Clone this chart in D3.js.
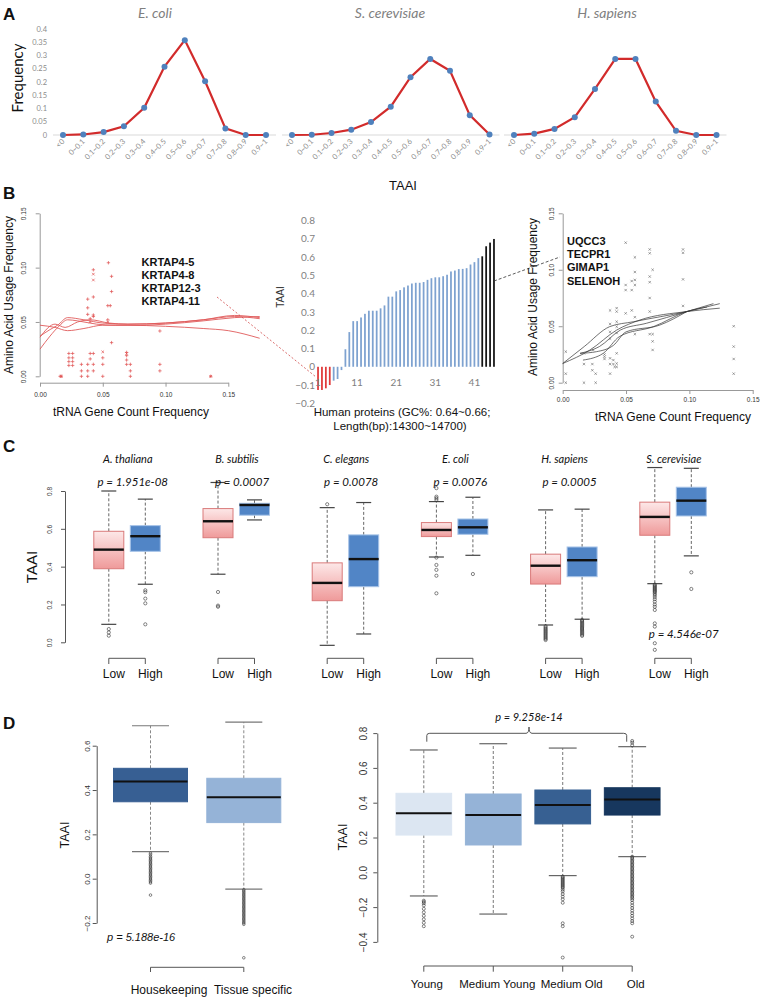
<!DOCTYPE html>
<html>
<head>
<meta charset="utf-8">
<script src="https://cdn.jsdelivr.net/npm/d3@7"></script>
<style>body{margin:0;background:#fff}</style>
</head>
<body>
<div id="chart"></div>
<script>
// ---------- data ----------
var bins = ["<0", "0~0.1", "0.1~0.2", "0.2~0.3", "0.3~0.4", "0.4~0.5", "0.5~0.6", "0.6~0.7", "0.7~0.8", "0.8~0.9", "0.9~1"];
var freqEcoli = [0, 0.002, 0.011, 0.033, 0.103, 0.258, 0.358, 0.203, 0.025, 0, 0];
var freqYeast = [0, 0.001, 0.0075, 0.020, 0.049, 0.107, 0.218, 0.287, 0.242, 0.075, 0.002];
var freqHuman = [0, 0.005, 0.023, 0.067, 0.174, 0.287, 0.287, 0.126, 0.016, 0, 0];
var freqTicks = [0, 0.05, 0.1, 0.15, 0.2, 0.25, 0.3, 0.35, 0.4];

// B left: KRTAP genes
var krtapPlus = [[0.016, 0], [0.017, 0], [0.023, 0.021], [0.023, 0.017], [0.023, 0.0135], [0.023, 0.010],
  [0.026, 0.021], [0.026, 0.017], [0.026, 0.0135], [0.026, 0.010], [0.033, 0.011], [0.033, 0.005], [0.033, 0],
  [0.038, 0.071], [0.038, 0.063], [0.038, 0.057], [0.038, 0.011], [0.038, 0.005], [0.038, 0],
  [0.040, 0.053], [0.040, 0.021], [0.040, 0.016], [0.0425, 0.098], [0.0425, 0.073], [0.0425, 0.0564],
  [0.0425, 0.055], [0.0425, 0.021], [0.0425, 0.011], [0.0425, 0.005], [0.050, 0.017], [0.050, 0.011], [0.050, 0],
  [0.0545, 0.1045], [0.054, 0.065], [0.056, 0.065], [0.054, 0.052], [0.057, 0.092], [0.057, 0.078], [0.057, 0.031],
  [0.069, 0.022], [0.069, 0.019], [0.069, 0.015], [0.069, 0.011], [0.072, 0.011], [0.072, 0.005], [0.072, 0],
  [0.0955, 0.0417], [0.0955, 0.011], [0.0955, 0.005], [0.136, 0]];
var krtapCross = [[0.0425, 0.094], [0.0425, 0.0886], [0.050, 0.0225], [0.054, 0.050], [0.069, 0.021], [0.040, 0.050], [0.136, 0], [0.017, 0]];
var krtapFits = [
  [[0, 0.025], [0.008, 0.037], [0.015, 0.046], [0.022, 0.052], [0.03, 0.051], [0.045, 0.048], [0.06, 0.047], [0.08, 0.047], [0.10, 0.048], [0.13, 0.051], [0.155, 0.054], [0.175, 0.055]],
  [[0, 0.037], [0.008, 0.043], [0.014, 0.047], [0.022, 0.054], [0.035, 0.052], [0.05, 0.049], [0.07, 0.048], [0.10, 0.049], [0.13, 0.052], [0.155, 0.055], [0.175, 0.053]],
  [[0, 0.047], [0.012, 0.045], [0.022, 0.042], [0.035, 0.044], [0.05, 0.047], [0.07, 0.047], [0.10, 0.046], [0.13, 0.044], [0.15, 0.042], [0.175, 0.035]],
  [[0, 0.036], [0.012, 0.048], [0.02, 0.045], [0.03, 0.05], [0.04, 0.052], [0.055, 0.049], [0.07, 0.048], [0.10, 0.049], [0.13, 0.052], [0.155, 0.056], [0.175, 0.054]]
];
var krtapGenes = ["KRTAP4-5", "KRTAP4-8", "KRTAP12-3", "KRTAP4-11"];

// B middle: TAAI of 46 human proteins
var taaiBars = [-0.127, -0.127, -0.118, -0.10, -0.076, -0.067, -0.018, 0.096, 0.19, 0.25, 0.25, 0.27, 0.29, 0.307, 0.307,
  0.307, 0.32, 0.336, 0.384, 0.384, 0.413, 0.42, 0.435, 0.445, 0.456, 0.46, 0.46, 0.464, 0.476, 0.485, 0.49, 0.49,
  0.496, 0.504, 0.522, 0.527, 0.535, 0.536, 0.54, 0.56, 0.573, 0.595, 0.605, 0.66, 0.68, 0.70];
var barTicks = [1, 11, 21, 31, 41];
var barYTicks = [-0.2, -0.1, 0, 0.1, 0.2, 0.3, 0.4, 0.5, 0.6, 0.7, 0.8];

// B right: high-TAAI genes
var highGenes = ["UQCC3", "TECPR1", "GIMAP1", "SELENOH"];
var highPts = [[0.0024, 0.0275], [0.0024, 0.008], [0.0024, 0], [0.0168, 0.026], [0.0168, 0.0165], [0.0168, 0],
  [0.0234, 0.0165], [0.0234, 0.011], [0.024, 0.029], [0.026, 0.008], [0.026, 0], [0.033, 0.025], [0.033, 0.023], [0.033, 0.021],
  [0.0374, 0.064], [0.0374, 0.052], [0.0374, 0.045], [0.0374, 0.039], [0.0374, 0.0216], [0.0374, 0.0165], [0.0374, 0.008],
  [0.040, 0.020], [0.040, 0.0165], [0.041, 0.014], [0.0426, 0.066], [0.0426, 0.063], [0.0426, 0.054], [0.0426, 0.0496],
  [0.0426, 0.044], [0.0426, 0.026], [0.0426, 0.017], [0.0426, 0.014], [0.0497, 0.124], [0.0497, 0.0865], [0.0497, 0.082],
  [0.0497, 0.0614], [0.0545, 0.090], [0.0545, 0.082], [0.0545, 0.064], [0.057, 0.111], [0.057, 0.098], [0.057, 0.091],
  [0.057, 0.0865], [0.057, 0.058], [0.057, 0.043], [0.0687, 0.118], [0.0687, 0.1146], [0.0687, 0.094], [0.0687, 0.089],
  [0.0687, 0.075], [0.0687, 0.063], [0.0687, 0.043], [0.071, 0.10], [0.071, 0.043], [0.071, 0.0366], [0.071, 0.029],
  [0.095, 0.118], [0.095, 0.115], [0.095, 0.0915], [0.095, 0.068], [0.135, 0.050], [0.135, 0.032], [0.135, 0.021], [0.135, 0.008]];
var highFits = [
  [[0, 0.017], [0.017, 0.032], [0.037, 0.0496], [0.056, 0.054], [0.098, 0.063], [0.124, 0.070]],
  [[0, 0.017], [0.0216, 0.029], [0.0426, 0.0466], [0.061, 0.0555], [0.098, 0.063], [0.124, 0.066]],
  [[0.0137, 0.026], [0.029, 0.032], [0.0455, 0.0466], [0.066, 0.0526], [0.098, 0.063], [0.119, 0.070]],
  [[0.016, 0.020], [0.032, 0.026], [0.045, 0.041], [0.0716, 0.0496], [0.098, 0.063], [0.114, 0.067]],
  [[0.0137, 0.026], [0.0268, 0.0275], [0.040, 0.033], [0.050, 0.045], [0.0766, 0.051], [0.098, 0.063]]
];
var freqAxisTicks = [0, 0.05, 0.10, 0.15];

// C: [lower whisker, Q1, median, Q3, upper whisker]
var cSpecies = ["A. thaliana", "B. subtilis", "C. elegans", "E. coli", "H. sapiens", "S. cerevisiae"];
var cPvals = ["p = 1.951e-08", "p = 0.0007", "p = 0.0078", "p = 0.0076", "p = 0.0005", "p = 4.546e-07"];
var cLowStats = [[0.095, 0.389, 0.49, 0.587, 0.80], [0.36, 0.553, 0.64, 0.707, 0.845], [-0.016, 0.22, 0.314, 0.42, 0.712],
  [0.451, 0.559, 0.594, 0.633, 0.744], [0.0915, 0.308, 0.405, 0.466, 0.70], [0.31, 0.566, 0.663, 0.741, 0.924]];
var cHighStats = [[0.307, 0.481, 0.561, 0.617, 0.757], [0.647, 0.672, 0.726, 0.735, 0.753], [0.044, 0.294, 0.44, 0.568, 0.739],
  [0.46, 0.571, 0.608, 0.652, 0.767], [0.122, 0.347, 0.434, 0.504, 0.704], [0.457, 0.668, 0.749, 0.82, 0.92]];
var cLowOut = [[0.07, 0.052, 0.035], [0.266, 0.194, 0.188], [0.73],
  [0.815, 0.770, 0.762, 0.753, 0.448, 0.409, 0.383, 0.352, 0.259],
  [0.085, 0.078, 0.072, 0.066, 0.06, 0.054, 0.048, 0.042, 0.036, 0.03, 0.024, 0.018, 0.012],
  [0.305, 0.3, 0.295, 0.29, 0.285, 0.28, 0.275, 0.27, 0.265, 0.258, 0.25, 0.24, 0.228, 0.215, 0.2, 0.188, 0.171, 0.1, 0.083, -0.005, -0.04]];
var cHighOut = [[0.275, 0.265, 0.231, 0.206, 0.095], [], [], [0.361],
  [0.118, 0.112, 0.106, 0.1, 0.094, 0.088, 0.082, 0.076, 0.07, 0.064, 0.058, 0.052, 0.046, 0.04, 0.034],
  [0.37, 0.282]];
var cTicks = [0, 0.2, 0.4, 0.6, 0.8];

// D left
var dLeftCats = ["Housekeeping", "Tissue specific"];
var dLeftStats = [[0.122, 0.347, 0.438, 0.498, 0.69], [-0.047, 0.253, 0.367, 0.453, 0.706]];
var dLeftOut = [[0.115, 0.108, 0.1, 0.094, 0.088, 0.082, 0.076, 0.07, 0.064, 0.058, 0.052, 0.046, 0.04, 0.034, 0.028, 0.022, 0.016, 0.01, 0.004, -0.002, -0.008, -0.014, -0.02, -0.074],
  [-0.05, -0.056, -0.062, -0.068, -0.074, -0.08, -0.086, -0.092, -0.098, -0.104, -0.11, -0.116, -0.122, -0.128, -0.134, -0.14, -0.146, -0.152, -0.158, -0.164, -0.17, -0.176, -0.182, -0.188, -0.194, -0.2, -0.206, -0.357]];
var dLeftTicks = [-0.2, 0, 0.2, 0.4, 0.6];

// D right
var dRightCats = ["Young", "Medium Young", "Medium Old", "Old"];
var dRightStats = [[-0.136, 0.214, 0.339, 0.454, 0.703], [-0.24, 0.157, 0.329, 0.45, 0.739],
  [-0.019, 0.278, 0.387, 0.473, 0.714], [0.09, 0.329, 0.419, 0.486, 0.722]];
var dRightOut = [[-0.163, -0.17, -0.178, -0.19, -0.21, -0.23, -0.25, -0.27, -0.29, -0.31], [],
  [-0.025, -0.03, -0.036, -0.042, -0.048, -0.054, -0.06, -0.066, -0.072, -0.078, -0.084, -0.09, -0.1, -0.11, -0.125, -0.14, -0.155, -0.175, -0.293, -0.31, -0.49],
  [0.755, 0.745, 0.73, 0.09, 0.082, 0.074, 0.066, 0.058, 0.05, 0.042, 0.034, 0.026, 0.018, 0.01, 0.002, -0.006, -0.014, -0.022, -0.03, -0.038, -0.046, -0.054, -0.062, -0.07, -0.078, -0.086, -0.094, -0.102, -0.11, -0.118, -0.126, -0.134, -0.142, -0.15, -0.16, -0.175, -0.19, -0.205, -0.22, -0.235, -0.25, -0.265, -0.28, -0.293, -0.37]];
var dRightTicks = [-0.4, -0.2, 0, 0.2, 0.4, 0.6, 0.8];

// ---------- drawing ----------
var ARIAL = "'Liberation Sans', Arial, sans-serif";
var CALIBRI = "Lato, 'Open Sans', sans-serif";

var svg = d3.select("#chart").append("svg")
  .attr("width", 760).attr("height", 998)
  .style("font-family", ARIAL);

var defs = svg.append("defs");
var grad = defs.append("linearGradient").attr("id", "lowGrad")
  .attr("x1", 0).attr("y1", 0).attr("x2", 0).attr("y2", 1);
grad.append("stop").attr("offset", "0%").attr("stop-color", "#fde8e8");
grad.append("stop").attr("offset", "100%").attr("stop-color", "#ef9a9a");

function txt(g, x, y, s, o) {
  o = o || {};
  var t = g.append("text").attr("x", x).attr("y", y).text(s)
    .attr("font-size", o.size || 12)
    .attr("fill", o.fill || "#111")
    .attr("text-anchor", o.anchor || "start");
  if (o.family) t.attr("font-family", o.family);
  if (o.weight) t.attr("font-weight", o.weight);
  if (o.italic) t.attr("font-style", "italic");
  if (o.rotate) t.attr("transform", "rotate(" + o.rotate + "," + x + "," + y + ")");
  return t;
}

// R style axes
function rAxisY(g, scale, ticks, fmt, x, off, fs, col) {
  var ax = g.append("g").attr("transform", "translate(" + x + ",0)")
    .call(d3.axisLeft(scale).tickValues(ticks).tickFormat(fmt).tickSize(4).tickSizeOuter(0));
  ax.attr("font-family", ARIAL).attr("font-size", fs);
  ax.select(".domain").attr("stroke", col);
  ax.selectAll(".tick line").attr("stroke", col);
  ax.selectAll(".tick text").attr("x", 0).attr("dy", "0.35em").attr("text-anchor", "middle")
    .attr("fill", "#333")
    .attr("transform", "translate(" + (-off) + ",0) rotate(-90)");
}
function rAxisX(g, scale, ticks, fmt, y, off, fs, col) {
  var ax = g.append("g").attr("transform", "translate(0," + y + ")")
    .call(d3.axisBottom(scale).tickValues(ticks).tickFormat(fmt).tickSize(4).tickSizeOuter(0));
  ax.attr("font-family", ARIAL).attr("font-size", fs);
  ax.select(".domain").attr("stroke", col);
  ax.selectAll(".tick line").attr("stroke", col);
  ax.selectAll(".tick text").attr("y", off).attr("dy", "0.35em").attr("fill", "#333");
}

function drawBox(g, y, cx, w, st, out, o) {
  var cap = w / 2;
  g.append("line").attr("x1", cx).attr("x2", cx).attr("y1", y(st[3])).attr("y2", y(st[4]))
    .attr("stroke", o.wcol).attr("stroke-dasharray", "3,2");
  g.append("line").attr("x1", cx).attr("x2", cx).attr("y1", y(st[1])).attr("y2", y(st[0]))
    .attr("stroke", o.wcol).attr("stroke-dasharray", "3,2");
  [st[0], st[4]].forEach(function (v) {
    g.append("line").attr("x1", cx - cap / 2).attr("x2", cx + cap / 2).attr("y1", y(v)).attr("y2", y(v))
      .attr("stroke", o.ccol).attr("stroke-width", 1.2);
  });
  g.append("rect").attr("x", cx - w / 2).attr("width", w)
    .attr("y", y(st[3])).attr("height", y(st[1]) - y(st[3]))
    .attr("fill", o.fill).attr("stroke", o.stroke).attr("stroke-width", 1);
  g.append("line").attr("x1", cx - w / 2).attr("x2", cx + w / 2).attr("y1", y(st[2])).attr("y2", y(st[2]))
    .attr("stroke", o.med).attr("stroke-width", o.mw);
  g.selectAll(null).data(out).enter().append("circle")
    .attr("cx", cx).attr("cy", function (d) { return y(d); }).attr("r", o.r)
    .attr("fill", "none").attr("stroke", "#333").attr("stroke-width", 0.6);
}

// panel letters
[["A", 20], ["B", 199], ["C", 452], ["D", 729]].forEach(function (p) {
  txt(svg, 3, p[1], p[0], { size: 17, weight: "bold" });
});

// ---------- Panel A ----------
var freqY = d3.scaleLinear().domain([0, 0.4]).range([135, 29]);
var panelA = [
  { name: "E. coli", values: freqEcoli, range: [63, 266], title: 155 },
  { name: "S. cerevisiae", values: freqYeast, range: [292, 489.5], title: 390 },
  { name: "H. sapiens", values: freqHuman, range: [514, 716.5], title: 607 }
];
panelA.forEach(function (p, k) {
  var g = svg.append("g");
  var x = d3.scalePoint().domain(bins).range(p.range);
  g.append("line").attr("x1", p.range[0] - 10).attr("x2", p.range[1] + 10)
    .attr("y1", freqY(0)).attr("y2", freqY(0)).attr("stroke", "#d9d9d9");
  g.append("path").datum(p.values)
    .attr("d", d3.line().x(function (d, i) { return x(bins[i]); }).y(function (d) { return freqY(d); }))
    .attr("fill", "none").attr("stroke", "#d22b2b").attr("stroke-width", 2.2);
  g.selectAll("circle").data(p.values).enter().append("circle")
    .attr("cx", function (d, i) { return x(bins[i]); })
    .attr("cy", function (d) { return freqY(d); })
    .attr("r", 3).attr("fill", "#4f81bd");
  bins.forEach(function (b) {
    txt(g, x(b) + 2, 142, b, { size: 7.5, fill: "#8c8c8c", anchor: "end", rotate: -45, family: CALIBRI });
  });
  txt(g, p.title, 18, p.name, { size: 14, fill: "#808080", anchor: "middle", italic: true, family: CALIBRI });
  if (k === 0) {
    freqTicks.forEach(function (t) {
      txt(g, 47, freqY(t) + 2.5, String(t), { size: 7.5, fill: "#8c8c8c", anchor: "end", family: CALIBRI });
    });
    txt(g, 23, 78, "Frequency", { size: 15, anchor: "middle", rotate: -90, family: CALIBRI });
  }
});
txt(svg, 403, 190, "TAAI", { size: 13, anchor: "middle" });

// ---------- Panel B left ----------
var bL = svg.append("g");
var bLx = d3.scaleLinear().domain([0, 0.15]).range([40, 228.3]);
var bLy = d3.scaleLinear().domain([0, 0.15]).range([376.3, 213.3]);
rAxisY(bL, bLy, freqAxisTicks, d3.format(".2f"), 39.7, 16, 6.5, "#999");
rAxisX(bL, bLx, freqAxisTicks, d3.format(".2f"), 382.7, 12, 6.5, "#999");
krtapFits.forEach(function (f) {
  bL.append("path").datum(f)
    .attr("d", d3.line().curve(d3.curveMonotoneX).x(function (d) { return bLx(d[0]); }).y(function (d) { return bLy(d[1]); }))
    .attr("fill", "none").attr("stroke", "#e05a5a").attr("stroke-width", 0.9);
});
bL.selectAll(".plus").data(krtapPlus).enter().append("path")
  .attr("d", function (d) {
    var x = bLx(d[0]), y = bLy(d[1]), s = 1.7;
    return "M" + (x - s) + "," + y + "H" + (x + s) + "M" + x + "," + (y - s) + "V" + (y + s);
  }).attr("stroke", "#e05050").attr("stroke-width", 0.7);
bL.selectAll(".cross").data(krtapCross).enter().append("path")
  .attr("d", function (d) {
    var x = bLx(d[0]), y = bLy(d[1]), s = 1.3;
    return "M" + (x - s) + "," + (y - s) + "L" + (x + s) + "," + (y + s) + "M" + (x - s) + "," + (y + s) + "L" + (x + s) + "," + (y - s);
  }).attr("stroke", "#e05050").attr("stroke-width", 0.7);
krtapGenes.forEach(function (s, i) {
  txt(bL, 141.5, 265.5 + i * 13.2, s, { size: 11, weight: "bold" });
});
txt(bL, 13, 295, "Amino Acid Usage Frequency", { size: 12, anchor: "middle", rotate: -90 });
txt(bL, 131, 416, "tRNA Gene Count Frequency", { size: 12, anchor: "middle" });
bL.append("line").attr("x1", 217).attr("y1", 297).attr("x2", 316).attr("y2", 377)
  .attr("stroke", "#d04848").attr("stroke-width", 0.8).attr("stroke-dasharray", "2,2");

// ---------- Panel B middle ----------
var bM = svg.append("g");
var barIdx = taaiBars.map(function (d, i) { return i + 1; });
var bMx = d3.scaleBand().domain(barIdx).range([315, 497]).padding(0.55);
var bMy = d3.scaleLinear().domain([-0.2, 0.8]).range([403.3, 220.7]);
bM.selectAll("rect").data(taaiBars).enter().append("rect")
  .attr("x", function (d, i) { return bMx(i + 1); })
  .attr("width", bMx.bandwidth())
  .attr("y", function (d) { return bMy(Math.max(0, d)); })
  .attr("height", function (d) { return Math.abs(bMy(d) - bMy(0)); })
  .attr("fill", function (d, i) { return i < 4 ? "#e03a3a" : (i >= 42 ? "#151515" : "#7ea2d0"); });
barYTicks.forEach(function (t) {
  txt(bM, 315, bMy(t) + 3.5, t === 0 ? "0" : d3.format(".1f")(t), { size: 10, fill: "#7f7f7f", anchor: "end", family: CALIBRI });
});
barTicks.forEach(function (t) {
  txt(bM, bMx(t) + bMx.bandwidth() / 2, 385.5, String(t), { size: 10, fill: "#7f7f7f", anchor: "middle", family: CALIBRI });
});
txt(bM, 283.5, 297, "TAAI", { size: 10, fill: "#333", anchor: "middle", rotate: -90 });
txt(bM, 402, 416, "Human proteins (GC%: 0.64~0.66;", { size: 11.5, anchor: "middle" });
txt(bM, 400, 429.5, "Length(bp):14300~14700)", { size: 11.5, anchor: "middle" });
bM.append("line").attr("x1", 494).attr("y1", 281).attr("x2", 560).attr("y2", 257)
  .attr("stroke", "#333").attr("stroke-width", 0.8).attr("stroke-dasharray", "3,2");

// ---------- Panel B right ----------
var bR = svg.append("g");
var bRx = d3.scaleLinear().domain([0, 0.15]).range([562.7, 752.7]);
var bRy = d3.scaleLinear().domain([0, 0.15]).range([382.7, 213.3]);
rAxisY(bR, bRy, freqAxisTicks, d3.format(".2f"), 562.7, 11, 6.5, "#999");
rAxisX(bR, bRx, freqAxisTicks, d3.format(".2f"), 390, 10, 6.5, "#999");
highFits.forEach(function (f) {
  bR.append("path").datum(f)
    .attr("d", d3.line().curve(d3.curveMonotoneX).x(function (d) { return bRx(d[0]); }).y(function (d) { return bRy(d[1]); }))
    .attr("fill", "none").attr("stroke", "#333").attr("stroke-width", 0.7);
});
bR.selectAll(".cross").data(highPts).enter().append("path")
  .attr("d", function (d) {
    var x = bRx(d[0]), y = bRy(d[1]), s = 1.2;
    return "M" + (x - s) + "," + (y - s) + "L" + (x + s) + "," + (y + s) + "M" + (x - s) + "," + (y + s) + "L" + (x + s) + "," + (y - s);
  }).attr("stroke", "#666").attr("stroke-width", 0.6);
highGenes.forEach(function (s, i) {
  txt(bR, 567, 245 + i * 13.2, s, { size: 11, weight: "bold" });
});
txt(bR, 537, 297, "Amino Acid Usage Frequency", { size: 12, anchor: "middle", rotate: -90 });
txt(bR, 673, 421, "tRNA Gene Count Frequency", { size: 12, anchor: "middle" });

// ---------- Panel C ----------
var pc = svg.append("g");
var cy = d3.scaleLinear().domain([0, 0.8]).range([642.3, 491]);
var cx = d3.scalePoint().domain(cSpecies).range([108.8, 654.8]);
var cW = 30, cGap = 36.5;
rAxisY(pc, cy, cTicks, d3.format(".1f"), 65, 15, 6.5, "#555");
txt(pc, 37, 567, "TAAI", { size: 15, anchor: "middle", rotate: -90 });
cSpecies.forEach(function (s, i) {
  var x0 = cx(s), x1 = x0 + cGap;
  drawBox(pc, cy, x0, cW, cLowStats[i], cLowOut[i],
    { fill: "url(#lowGrad)", stroke: "#d97a7a", med: "#111", mw: 2.4, wcol: "#666", ccol: "#444", r: 1.6 });
  drawBox(pc, cy, x1, cW, cHighStats[i], cHighOut[i],
    { fill: "#5185c6", stroke: "#a8c4e8", med: "#111", mw: 2.4, wcol: "#666", ccol: "#444", r: 1.6 });
  txt(pc, x0 + 19, 463, s, { size: 11, italic: true, anchor: "middle", family: CALIBRI });
  if (i === 5) txt(pc, x0 + 29, 638, cPvals[i], { size: 11.5, italic: true, anchor: "middle", family: CALIBRI });
  else txt(pc, x0 + 24, 486, cPvals[i], { size: 11.5, italic: true, anchor: "middle", family: CALIBRI });
  pc.append("path").attr("d", "M" + x0 + ",664V658.3H" + x1 + "V664")
    .attr("fill", "none").attr("stroke", "#555");
  txt(pc, x0 + 5, 678, "Low", { size: 12, anchor: "middle" });
  txt(pc, x1 + 5, 678, "High", { size: 12, anchor: "middle" });
});

// ---------- Panel D left ----------
var dl = svg.append("g");
var dly = d3.scaleLinear().domain([-0.2, 0.6]).range([923.0, 745.7]);
var dlx = d3.scalePoint().domain(dLeftCats).range([150.5, 243.8]);
var dLeftFill = ["#375f93", "#95b3d7"];
rAxisY(dl, dly, dLeftTicks, d3.format(".1f"), 96.7, 10, 8, "#555");
txt(dl, 69, 835, "TAAI", { size: 12.5, anchor: "middle", rotate: -90 });
dLeftCats.forEach(function (c, i) {
  drawBox(dl, dly, dlx(c), 74, dLeftStats[i], dLeftOut[i],
    { fill: dLeftFill[i], stroke: dLeftFill[i], med: "#111", mw: 2, wcol: "#888", ccol: "#777", r: 1.3 });
});
dl.append("path").attr("d", "M" + dlx(dLeftCats[0]) + ",972V967.3H" + dlx(dLeftCats[1]) + "V972")
  .attr("fill", "none").attr("stroke", "#555");
txt(dl, 169, 994, dLeftCats[0], { size: 12, anchor: "middle" });
txt(dl, 253, 994, dLeftCats[1], { size: 12, anchor: "middle" });
txt(dl, 107, 940.5, "p  = 5.188e-16", { size: 11, italic: true });

// ---------- Panel D right ----------
var dr = svg.append("g");
var dry = d3.scaleLinear().domain([-0.4, 0.8]).range([941.9, 733.1]);
var drx = d3.scalePoint().domain(dRightCats).range([423.8, 632.2]);
var dRightFill = ["#dce6f2", "#95b3d7", "#376092", "#17375e"];
var dRightLabelShift = [3, 4, 9, 3.5];
rAxisY(dr, dry, dRightTicks, d3.format(".1f"), 377.3, 14, 10, "#555");
txt(dr, 347, 837, "TAAI", { size: 12.5, anchor: "middle", rotate: -90 });
dRightCats.forEach(function (c, i) {
  drawBox(dr, dry, drx(c), 55.7, dRightStats[i], dRightOut[i],
    { fill: dRightFill[i], stroke: dRightFill[i], med: "#111", mw: 2, wcol: "#777", ccol: "#666", r: 1.5 });
  dr.append("line").attr("x1", drx(c)).attr("x2", drx(c)).attr("y1", 966).attr("y2", 971.7).attr("stroke", "#555");
  txt(dr, drx(c) + dRightLabelShift[i], 988, c, { size: 11.5, anchor: "middle" });
});
dr.append("line").attr("x1", drx("Young")).attr("x2", drx("Old")).attr("y1", 966).attr("y2", 966).attr("stroke", "#555");
var bx0 = drx("Young") + 3, bx1 = drx("Old") - 5.5, bm = 529;
dr.append("path")
  .attr("d", "M" + bx0 + ",741.7V735.5Q" + bx0 + ",733.3 " + (bx0 + 3) + ",733.3H" + (bm - 3) +
    "Q" + bm + ",733.3 " + bm + ",727Q" + bm + ",733.3 " + (bm + 3) + ",733.3H" + (bx1 - 3) +
    "Q" + bx1 + ",733.3 " + bx1 + ",735.5V741.7")
  .attr("fill", "none").attr("stroke", "#555");
txt(dr, 529, 721, "p = 9.258e-14", { size: 11, italic: true, anchor: "middle", family: CALIBRI });
</script>
</body>
</html>
